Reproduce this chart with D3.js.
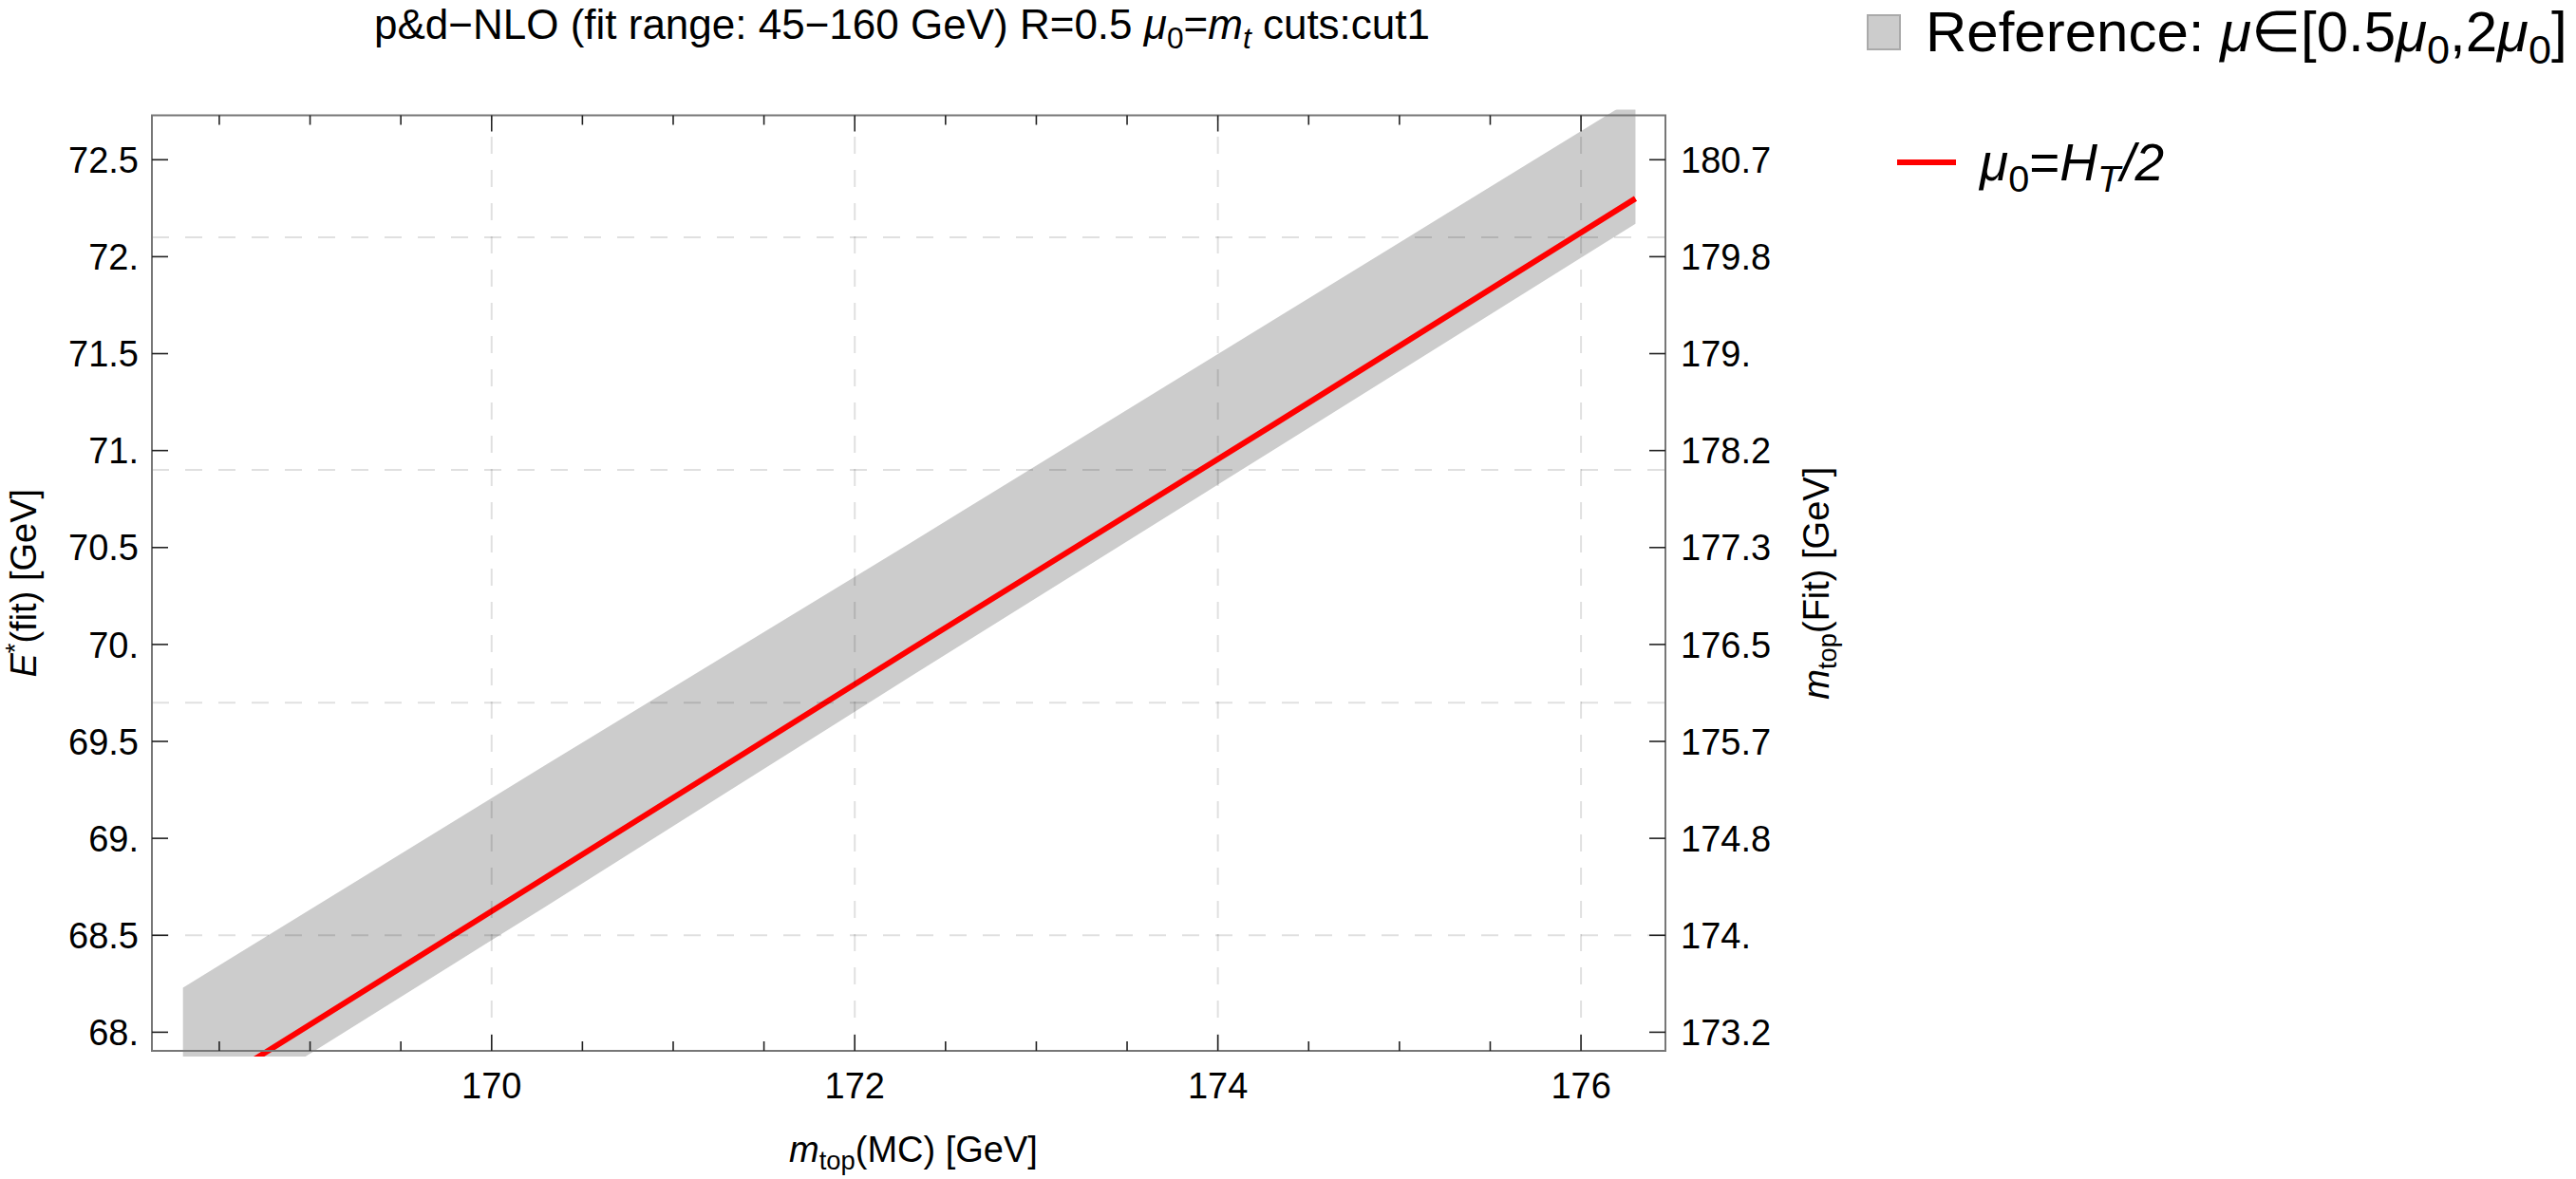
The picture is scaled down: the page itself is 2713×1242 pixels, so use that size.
<!DOCTYPE html>
<html><head><meta charset="utf-8">
<script src="https://cdn.jsdelivr.net/npm/d3@7"></script>
<style>
body{margin:0;background:#fff;}
text{font-family:"Liberation Sans",Arial,Helvetica,sans-serif;fill:#000;}
</style>
</head><body>
<svg id="c" width="2713" height="1242"></svg>
<script>
// ---- data ----
const masses     = [168.3, 170.3, 172.3, 174.3, 176.3];
const bandUpper  = [68.23, 69.38, 70.52, 71.67, 72.82];
const bandLower  = [67.48, 68.65, 69.83, 71.00, 72.17];
const centralFit = [67.63, 68.80, 69.97, 71.13, 72.30];

const xDomain = [168.129, 176.465];
const yDomain = [67.904, 72.729];
const xMajorTicks = [170, 172, 174, 176];
const xTickLabels = ["170", "172", "174", "176"];
const xMinorTicks = [168.5, 169, 169.5, 170.5, 171, 171.5, 172.5, 173, 173.5, 174.5, 175, 175.5];
const yTicks = [68, 68.5, 69, 69.5, 70, 70.5, 71, 71.5, 72, 72.5];
const yTickLabels = ["68.", "68.5", "69.", "69.5", "70.", "70.5", "71.", "71.5", "72.", "72.5"];
const rightTickLabels = ["173.2", "174.", "174.8", "175.7", "176.5", "177.3", "178.2", "179.", "179.8", "180.7"];
const rightGridValues = [174, 176, 178, 180];
// right axis: m_top(Fit) = 174 + (E* - 68.5) * 5/3
const eToM = e => 174 + (e - 68.5) * 5 / 3;

// ---- layout ----
const L = 160, R = 1754, T = 121.5, B = 1107;
const svg = d3.select("#c");
const x = d3.scaleLinear().domain(xDomain).range([L, R]);
const y = d3.scaleLinear().domain(yDomain).range([B, T]);
const y2 = d3.scaleLinear().domain(yDomain.map(eToM)).range([B, T]);

svg.append("defs").append("clipPath").attr("id", "clip")
  .append("rect").attr("x", L).attr("y", T - 6).attr("width", R - L).attr("height", B - T + 12);

const plot = svg.append("g").attr("clip-path", "url(#clip)");
const pts = masses.map((m, i) => ({m, lo: bandLower[i], hi: bandUpper[i], c: centralFit[i]}));

plot.append("path").datum(pts)
  .attr("d", d3.area().x(d => x(d.m)).y0(d => y(d.lo)).y1(d => y(d.hi)))
  .attr("fill", "#cccccc");

// grid
const gridG = svg.append("g").attr("stroke", "rgba(0,0,0,0.12)").attr("stroke-width", 2)
  .attr("stroke-dasharray", "18,17").attr("fill", "none");
gridG.selectAll("line.v").data(xMajorTicks).join("line")
  .attr("x1", d => x(d)).attr("x2", d => x(d)).attr("y1", B).attr("y2", T);
gridG.selectAll("line.h").data(rightGridValues).join("line")
  .attr("x1", L).attr("x2", R).attr("y1", d => y2(d)).attr("y2", d => y2(d));

plot.append("path").datum(pts)
  .attr("d", d3.line().x(d => x(d.m)).y(d => y(d.c)))
  .attr("fill", "none").attr("stroke", "#ff0000").attr("stroke-width", 6);

// frame
svg.append("rect").attr("x", L).attr("y", T).attr("width", R - L).attr("height", B - T)
  .attr("fill", "none").attr("stroke", "#777").attr("stroke-width", 2);

// ticks
const tk = svg.append("g").attr("stroke", "#222").attr("stroke-width", 1.6);
const majLen = 17, minLen = 10;
xMajorTicks.forEach(v => {
  tk.append("line").attr("x1", x(v)).attr("x2", x(v)).attr("y1", B).attr("y2", B - majLen);
  tk.append("line").attr("x1", x(v)).attr("x2", x(v)).attr("y1", T).attr("y2", T + majLen);
});
xMinorTicks.forEach(v => {
  tk.append("line").attr("x1", x(v)).attr("x2", x(v)).attr("y1", B).attr("y2", B - minLen);
  tk.append("line").attr("x1", x(v)).attr("x2", x(v)).attr("y1", T).attr("y2", T + minLen);
});
yTicks.forEach(v => {
  tk.append("line").attr("x1", L).attr("x2", L + majLen).attr("y1", y(v)).attr("y2", y(v));
  tk.append("line").attr("x1", R).attr("x2", R - majLen).attr("y1", y(v)).attr("y2", y(v));
});

// tick labels
const fs = 38;
svg.append("g").selectAll("text").data(yTicks).join("text")
  .attr("x", L - 14).attr("y", d => y(d)).attr("dy", "0.36em")
  .attr("text-anchor", "end").attr("font-size", fs)
  .text((d, i) => yTickLabels[i]);
svg.append("g").selectAll("text").data(yTicks).join("text")
  .attr("x", R + 16).attr("y", d => y(d)).attr("dy", "0.36em")
  .attr("text-anchor", "start").attr("font-size", fs)
  .text((d, i) => rightTickLabels[i]);
svg.append("g").selectAll("text").data(xMajorTicks).join("text")
  .attr("x", d => x(d)).attr("y", 1157)
  .attr("text-anchor", "middle").attr("font-size", fs)
  .text((d, i) => xTickLabels[i]);

// rich text helper: parts = [text, style]; style tokens: i (italic), sub, sup
function rich(t, parts, size) {
  let shift = 0; // current baseline offset
  parts.forEach(p => {
    const [s, st] = p;
    const ts = t.append("tspan").text(s);
    let target = 0;
    if (st && st.includes("i")) ts.attr("font-style", "italic");
    if (st && st.includes("sub")) { ts.attr("font-size", size * 0.72); target = size * 0.22; }
    if (st && st.includes("sup")) { ts.attr("font-size", size * 0.72); target = -size * 0.35; }
    if (target !== shift) { ts.attr("dy", target - shift); shift = target; }
  });
  return t;
}

// title
const tfs = 44;
rich(svg.append("text").attr("x", 950).attr("y", 41).attr("text-anchor", "middle").attr("font-size", tfs),
  [["p&d\u2212NLO (fit range: 45\u2212160 GeV) R=0.5 "], ["\u03bc", "i"], ["0", "sub"], ["="], ["m", "i"], ["t", "i sub"], [" cuts:cut1"]], tfs);

// axis labels
rich(svg.append("text").attr("x", 962).attr("y", 1224).attr("text-anchor", "middle").attr("font-size", fs),
  [["m", "i"], ["top", "sub"], ["(MC) [GeV]"]], fs);
rich(svg.append("text").attr("transform", `translate(38,${(T + B) / 2}) rotate(-90)`).attr("text-anchor", "middle").attr("font-size", fs),
  [["E", "i"], ["*", "sup"], ["(fit) [GeV]"]], fs);
rich(svg.append("text").attr("transform", `translate(1926,${(T + B) / 2}) rotate(-90)`).attr("text-anchor", "middle").attr("font-size", fs),
  [["m", "i"], ["top", "sub"], ["(Fit) [GeV]"]], fs);

// legend
svg.append("rect").attr("x", 1967).attr("y", 16).attr("width", 34).attr("height", 36)
  .attr("fill", "#cccccc").attr("stroke", "#aaaaaa").attr("stroke-width", 2);
rich(svg.append("text").attr("x", 2028).attr("y", 54).attr("font-size", 60),
  [["Reference: "], ["\u03bc", "i"], ["\u2208[0.5"], ["\u03bc", "i"], ["0", "sub"], [",2"], ["\u03bc", "i"], ["0", "sub"], ["]"]], 60);
svg.append("line").attr("x1", 1998).attr("x2", 2060).attr("y1", 171).attr("y2", 171)
  .attr("stroke", "#ff0000").attr("stroke-width", 6);
rich(svg.append("text").attr("x", 2085).attr("y", 190).attr("font-size", 55),
  [["\u03bc", "i"], ["0", "sub"], ["="], ["H", "i"], ["T", "i sub"], ["/2", "i"]], 55);
</script>
</body></html>
